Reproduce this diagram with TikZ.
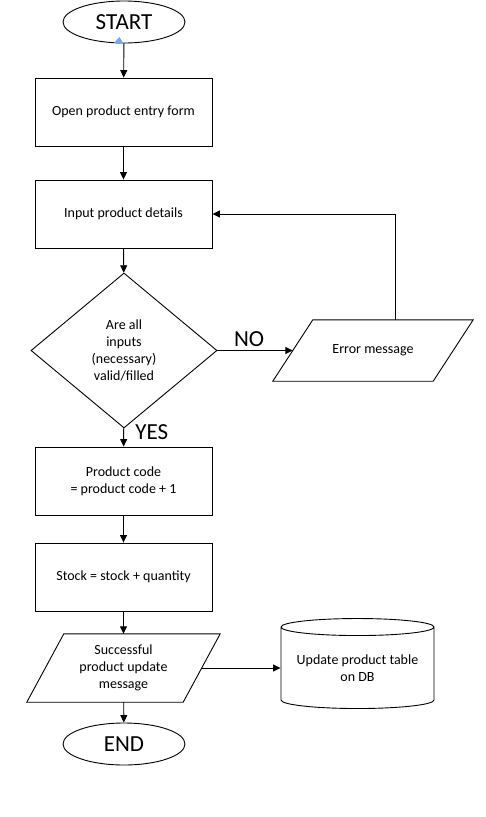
\documentclass[tikz,border=0pt]{standalone}
\usepackage{fontspec}
\setmainfont{Carlito}
\usepackage{tikz}
\usetikzlibrary{arrows.meta,shapes.geometric}

\tikzset{
  flow/.style={line width=0.9pt},
  arr/.style={flow,-{Triangle[length=7.5pt,width=7pt]}},
  txt/.style={font=\fontsize{14}{17}\selectfont, align=center},
  bigtxt/.style={font=\fontsize{23}{28}\selectfont},
  terminal/.style={draw, flow, ellipse, bigtxt, minimum width=122pt, minimum height=42pt, inner sep=0pt},
  process/.style={draw, flow, rectangle, txt, minimum width=177pt, minimum height=68pt},
  decision/.style={draw, flow, diamond, txt, minimum width=186pt, minimum height=155pt, inner sep=0pt},
  % the io node is the mid-line of the parallelogram, drawn later
  iobox/.style={rectangle, txt, inner sep=0pt},
  store/.style={draw, flow, cylinder, shape border rotate=90, aspect=0.14, txt,
    minimum width=153pt, minimum height=90pt, inner sep=0pt}
}

\begin{document}
\begin{tikzpicture}[x=1pt,y=-1pt]
      \useasboundingbox (0,0) rectangle (485,817);
      \node[terminal] (start) at (124,22) {START};
      \fill[blue!55!cyan!60!white] (114,43) -- (119.5,37) -- (123,43) -- cycle;
      \node[process] (open) at (123.5,112) {Open product entry form};
      \node[process] (input) at (123.5,214) {Input product details};
      \node[decision] (check) at (124,350.5) {Are all\\inputs\\(necessary)\\valid/filled};
      \node[iobox, minimum width=160pt, minimum height=61pt] (err) at (373,350.5) {Error message};
      \node[process] (code) at (123.5,481) {Product code\\= product code + 1};
      \node[process] (stock) at (123.5,577) {Stock = stock + quantity};
      \node[iobox, minimum width=156pt, minimum height=68pt] (succ) at (123.5,668) {Successful\\product update\\message};
      \node[store] (db) at (357.5,668) {Update product table\\on DB};
      \node[terminal] (end) at (124,744) {END};
      \coordinate (back) at (395,214);

      % parallelograms
      \draw[flow] ([xshift=20pt]err.north west) -- ([xshift=20pt]err.north east)
        -- ([xshift=-20pt]err.south east) -- ([xshift=-20pt]err.south west) -- cycle;
      \draw[flow] ([xshift=18.5pt]succ.north west) -- ([xshift=18.5pt]succ.north east)
        -- ([xshift=-18.5pt]succ.south east) -- ([xshift=-18.5pt]succ.south west) -- cycle;

      \draw[arr] (start) -- (open);
      \draw[arr] (open) -- (input);
      \draw[arr] (input) -- (check);
      \draw[arr] (check) -- (err) node[pos=0.42, above, bigtxt] {NO};
      \draw[arr] (err.north -| back) -- (back) -- (input.east);
      \draw[arr] (check) -- (code) node[pos=0.22, right=8pt, bigtxt] {YES};
      \draw[arr] (code) -- (stock);
      \draw[arr] (stock) -- (succ);
      \draw[arr] (succ) -- (db);
      \draw[arr] (succ) -- (end);
\end{tikzpicture}
\end{document}
